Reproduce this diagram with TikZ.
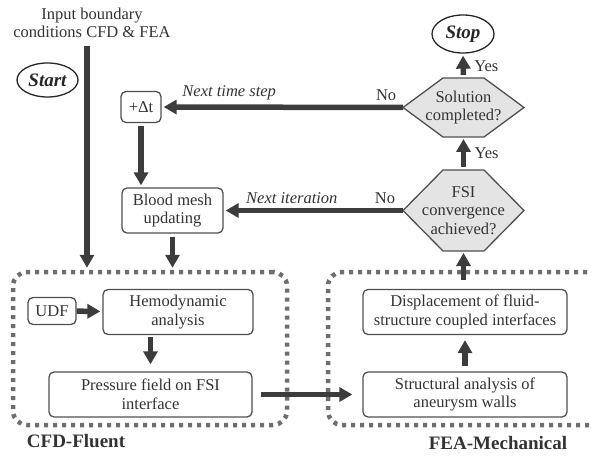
\documentclass[tikz,border=0pt]{standalone}
\usepackage{fontspec}
\newfontfamily\tms{Liberation Serif}
\usetikzlibrary{positioning,calc,backgrounds}
\usetikzlibrary{shapes.geometric, arrows.meta}
\definecolor{ink}{HTML}{333333}
\definecolor{arr}{HTML}{3C3C3C}
\definecolor{frm}{HTML}{505050}
\definecolor{dots}{HTML}{6E6E6E}
\definecolor{hexf}{HTML}{E4E4E4}
\tikzset{
  lbl/.style={text=ink, font=\tms\fontsize{16.5}{18.5}\selectfont},
  term/.style={ellipse, draw=black!85, line width=1.3pt, inner sep=0pt, text=black!85, font=\tms\fontsize{19}{22}\selectfont\bfseries\itshape},
  proc/.style={lbl, rectangle, rounded corners=5pt, draw=frm, line width=1.3pt, align=center, inner sep=2pt},
  dec/.style={lbl, rectangle, align=center, inner sep=0pt, outer sep=0pt, minimum width=121pt},
  hexbg/.style={draw=frm, fill=hexf, line width=1.3pt},
  grp/.style={rectangle, rounded corners=14pt, draw=dots, line width=4.5pt, dash pattern=on 4pt off 5pt},
  flow/.style={draw=arr, line width=5.5pt, -{Triangle[length=13pt,width=14pt]}, shorten >=2pt},
  note/.style={lbl, font=\tms\fontsize{16.5}{18.5}\selectfont\itshape},
  tag/.style={text=ink, font=\tms\fontsize{19}{22}\selectfont\bfseries}
}
\newcommand{\hexof}[1]{%
  \draw[hexbg] (#1.west) -- ([xshift=40pt]#1.north west) -- ([xshift=-40pt]#1.north east)
    -- (#1.east) -- ([xshift=-40pt]#1.south east) -- ([xshift=40pt]#1.south west) -- cycle;}
\begin{document}
\begin{tikzpicture}[x=1pt, y=-1pt]
	\useasboundingbox (0,0) rectangle (591,457);
	% groups
	\node[grp, minimum width=274pt, minimum height=153pt] (cfd) at (150,348.5) {};
	\node[grp, minimum width=282pt, minimum height=153pt] (fea) at (469,348.5) {};
	\node[tag] (cfdtag) at (76,441) {CFD-Fluent};
	\node[tag] (featag) at (498,443) {FEA-Mechanical};
	%
	\node[lbl, align=center] (input) at (92,23) {Input boundary\\conditions CFD \& FEA};
	\node[term, minimum width=61pt, minimum height=34pt] (start) at (47.5,80) {Start};
	\node[proc, minimum width=40pt, minimum height=31pt] (dt) at (141,107) {+Δt};
	\node[proc, minimum width=101pt, minimum height=45pt] (mesh) at (172.5,210.5) {Blood mesh\\updating};
	\node[term, minimum width=62pt, minimum height=38pt] (stop) at (463,34) {Stop};
	\node[dec, minimum height=59pt] (sol) at (463.5,107.5) {Solution\\completed?};
	\node[dec, minimum height=81pt] (fsi) at (463.5,210.5) {FSI\\convergence\\achieved?};
	\begin{scope}[on background layer]
		\hexof{sol}
		\hexof{fsi}
	\end{scope}
	\node[proc, minimum width=48pt, minimum height=27pt] (udf) at (52,311) {UDF};
	\node[proc, minimum width=150pt, minimum height=45pt] (hemo) at (178,312) {Hemodynamic\\analysis};
	\node[proc, minimum width=203pt, minimum height=45pt] (press) at (150.5,394.5) {Pressure field on FSI\\interface};
	\node[proc, minimum width=204pt, minimum height=45pt] (disp) at (465,312) {Displacement of fluid-\\structure coupled interfaces};
	\node[proc, minimum width=204pt, minimum height=45pt] (struct) at (465,394.5) {Structural analysis of\\aneurysm walls};
	%
	\draw[flow, shorten <=4pt] ([xshift=-5pt]input.south) -- ([xshift=-5pt]input.south |- cfd.north);
	\draw[flow] (sol.west) -- node[note, pos=0.72, above=1pt] {Next time step} node[lbl, pos=0.07, above=1pt] {No} (dt.east);
	\draw[flow] (fsi.west) -- node[note, pos=0.62, above=1pt] {Next iteration} node[lbl, pos=0.1, above=1pt] {No} (mesh.east);
	\draw[flow, shorten <=3pt] (sol.north) -- node[lbl, right=5pt] {Yes} (stop.south);
	\draw[flow, shorten <=3pt] (fsi.north) -- node[lbl, right=5pt] {Yes} (sol.south);
	\draw[flow, shorten <=3pt] (dt) -- (dt |- mesh.north);
	\draw[flow, shorten <=3pt] (mesh) -- (mesh |- cfd.north);
	\draw[flow] (udf) -- (hemo);
	\draw[flow, shorten <=2pt, shorten >=7pt] (press.north |- hemo.south) -- (press.north);
	\draw[flow, shorten <=8pt, shorten >=10pt] (press) -- (struct);
	\draw[flow, shorten <=5pt, shorten >=5pt] (struct) -- (disp);
	\draw[flow] ([yshift=9pt]disp.north -| fsi) -- (fsi.south);
\end{tikzpicture}
\end{document}
